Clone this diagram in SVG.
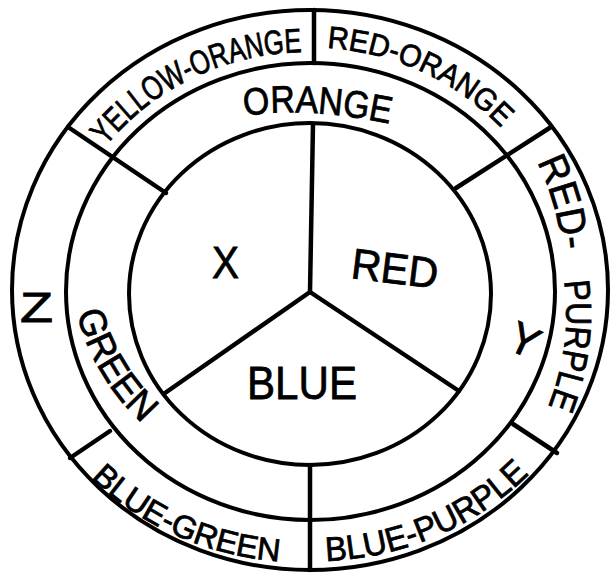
<svg xmlns="http://www.w3.org/2000/svg" width="612" height="573" viewBox="0 0 612 573">
  <style>
    .ring { fill: none; stroke: #000; stroke-width: 4; }
    .div { stroke: #000; stroke-width: 4.5; stroke-linecap: round; fill: none; }
    .lbl { font-family: "Liberation Sans", Arial, sans-serif; fill: #000; stroke: #000; stroke-width: 0.8; }
  </style>
  <defs>
    <path id="pYO" d="M106,146 A255,239 0 0 1 306,52"/>
    <path id="pRO" d="M327,48 A258,244 0 0 1 502,129"/>
    <path id="pRED" d="M537,162 A262,250 0 0 1 562,254"/>
    <path id="pPUR" d="M564,281 A255,250 0 0 1 548,407"/>
    <path id="pBG" d="M91,478 A292,268 0 0 0 288,562"/>
    <path id="pBP" d="M326,561 A292,268 0 0 0 535,468"/>
    <path id="pGR" d="M77,313 A240,225 0 0 0 144,425"/>
    <path id="pOR" d="M245,116 Q305,106 391,124"/>
  </defs>
  <rect x="0" y="0" width="612" height="573" fill="#fff"/>

  <g id="rings">
    <ellipse class="ring" cx="310" cy="290" rx="298" ry="280"/>
    <ellipse class="ring" cx="310.5" cy="291.5" rx="244.5" ry="228.5"/>
    <ellipse class="ring" cx="310" cy="294" rx="181" ry="171"/>
  </g>

  <g id="connectors">
    <line class="div" x1="314" y1="10" x2="314" y2="63"/>
    <line class="div" x1="313" y1="124" x2="310" y2="292"/>
    <line class="div" x1="310" y1="292" x2="165" y2="393"/>
    <line class="div" x1="310" y1="292" x2="459" y2="391"/>
    <line class="div" x1="68" y1="127" x2="166" y2="193"/>
    <line class="div" x1="551" y1="127" x2="456" y2="188"/>
    <line class="div" x1="513" y1="424" x2="557" y2="453"/>
    <line class="div" x1="310" y1="465" x2="310" y2="570"/>
    <line class="div" x1="110" y1="431" x2="70" y2="458"/>
  </g>

  <g id="outer-labels">
    <text id="yellow-orange" class="lbl" font-size="34"><textPath href="#pYO" textLength="224" lengthAdjust="spacingAndGlyphs">YELLOW-ORANGE</textPath></text>
    <text id="red-orange" class="lbl" font-size="31"><textPath href="#pRO" textLength="196" lengthAdjust="spacingAndGlyphs">RED-ORANGE</textPath></text>
    <text id="red-purple-1" class="lbl" font-size="40"><textPath href="#pRED" textLength="92" lengthAdjust="spacingAndGlyphs">RED-</textPath></text>
    <text id="red-purple-2" class="lbl" font-size="36"><textPath href="#pPUR" textLength="128" lengthAdjust="spacingAndGlyphs">PURPLE</textPath></text>
    <text id="blue-green" class="lbl" font-size="32"><textPath href="#pBG" textLength="210" lengthAdjust="spacingAndGlyphs">BLUE-GREEN</textPath></text>
    <text id="blue-purple" class="lbl" font-size="34"><textPath href="#pBP" textLength="226" lengthAdjust="spacingAndGlyphs">BLUE-PURPLE</textPath></text>
    <text id="z" class="lbl" x="20" y="322" font-size="42" textLength="33" lengthAdjust="spacingAndGlyphs">Z</text>
  </g>

  <g id="middle-labels">
    <text id="orange" class="lbl" font-size="38"><textPath href="#pOR" textLength="146" lengthAdjust="spacingAndGlyphs">ORANGE</textPath></text>
    <text id="green" class="lbl" font-size="38"><textPath href="#pGR" textLength="130" lengthAdjust="spacingAndGlyphs">GREEN</textPath></text>
    <text id="y" class="lbl" font-size="44" text-anchor="middle" transform="translate(518,354) rotate(25)">Y</text>
  </g>

  <g id="inner-labels">
    <text id="x" class="lbl" x="212" y="278" font-size="44" textLength="27" lengthAdjust="spacingAndGlyphs">X</text>
    <text id="red" class="lbl" x="350" y="278" font-size="43" textLength="87" lengthAdjust="spacingAndGlyphs" transform="rotate(7,350,278)">RED</text>
    <text id="blue" class="lbl" x="247" y="399" font-size="46" textLength="110" lengthAdjust="spacingAndGlyphs">BLUE</text>
  </g>
</svg>
